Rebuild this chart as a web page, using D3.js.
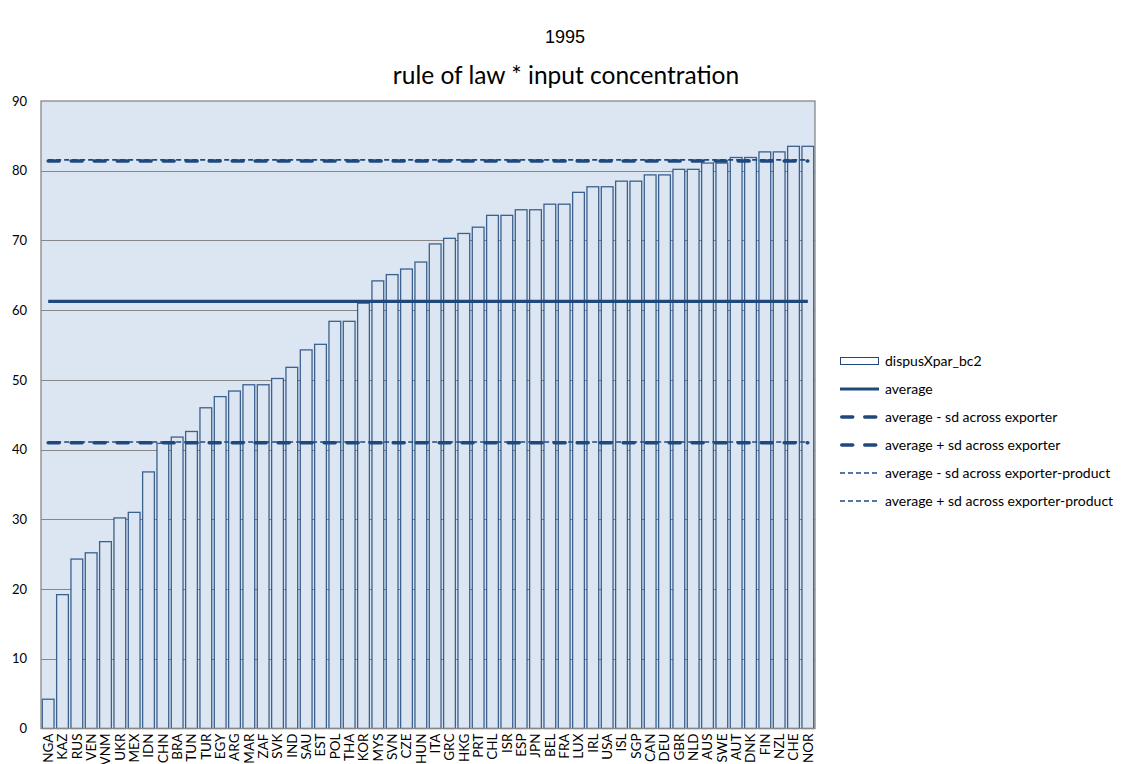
<!DOCTYPE html>
<html>
<head>
<meta charset="utf-8">
<script src="https://cdn.jsdelivr.net/npm/d3@7"></script>
<style>
  body { margin: 0; background: #fff; }
  svg { display: block; }
</style>
</head>
<body>
<svg id="chart" width="1122" height="764"></svg>
<script>
const categories = ["NGA","KAZ","RUS","VEN","VNM","UKR","MEX","IDN","CHN","BRA","TUN","TUR","EGY","ARG","MAR","ZAF","SVK","IND","SAU","EST","POL","THA","KOR","MYS","SVN","CZE","HUN","ITA","GRC","HKG","PRT","CHL","ISR","ESP","JPN","BEL","FRA","LUX","IRL","USA","ISL","SGP","CAN","DEU","GBR","NLD","AUS","SWE","AUT","DNK","FIN","NZL","CHE","NOR"];
const values = [4.2,19.2,24.3,25.2,26.8,30.2,31.0,36.8,40.9,41.8,42.6,46.0,47.6,48.4,49.3,49.3,50.2,51.8,54.3,55.1,58.4,58.4,61.0,64.2,65.1,65.9,66.9,69.5,70.3,71.0,71.9,73.6,73.6,74.4,74.4,75.2,75.2,76.9,77.7,77.7,78.5,78.5,79.4,79.4,80.2,80.2,81.1,81.1,81.9,81.9,82.7,82.7,83.5,83.5];
const average = 61.25;
const avgMinusSdExporter = 41.0;
const avgPlusSdExporter = 81.4;
const avgMinusSdExporterProduct = 41.1;
const avgPlusSdExporterProduct = 81.55;
const yTicks = [0,10,20,30,40,50,60,70,80,90];
const titleText = "1995";
const subtitleText = "rule of law * input concentration";
const legendLabels = ["dispusXpar_bc2","average","average - sd across exporter","average + sd across exporter","average - sd across exporter-product","average + sd across exporter-product"];

const svg = d3.select("#chart");
const m = {left: 41, top: 101, right: 815, bottom: 728.5};
const blue = "#1f497d";
const grid = "#878787";
const font = "Lato, 'Open Sans', sans-serif";

const x = d3.scaleBand().domain(categories).range([m.left, m.right]).paddingInner(0.18).paddingOuter(0.09);
const y = d3.scaleLinear().domain([0, 90]).range([m.bottom, m.top]);

// titles
svg.append("text").attr("x", 565).attr("y", 43).attr("text-anchor", "middle")
  .attr("font-family", "'Liberation Sans', Arial, sans-serif").attr("font-size", 18).attr("fill", "#000").text(titleText);
svg.append("text").attr("x", 566).attr("y", 84).attr("text-anchor", "middle")
  .attr("font-family", font).attr("font-size", 24.5).attr("fill", "#000").text(subtitleText);

// plot background
svg.append("rect").attr("x", m.left).attr("y", m.top).attr("width", m.right - m.left).attr("height", m.bottom - m.top)
  .attr("fill", "#dce6f2");

// gridlines
svg.append("g").selectAll("line").data(yTicks.filter(t => t > 0 && t < 90)).join("line")
  .attr("x1", m.left).attr("x2", m.right)
  .attr("y1", d => Math.round(y(d)) + 0.5).attr("y2", d => Math.round(y(d)) + 0.5)
  .attr("stroke", grid).attr("stroke-width", 1);

// bars
svg.append("g").selectAll("rect").data(categories).join("rect")
  .attr("x", (d) => x(d))
  .attr("y", (d, i) => y(values[i]))
  .attr("width", x.bandwidth())
  .attr("height", (d, i) => y(0) - y(values[i]))
  .attr("fill", "#dce6f2")
  .attr("stroke", blue).attr("stroke-width", 1.3).attr("stroke-opacity", 0.85);

// plot border
svg.append("rect").attr("x", m.left).attr("y", m.top).attr("width", m.right - m.left).attr("height", m.bottom - m.top)
  .attr("fill", "none").attr("stroke", grid).attr("stroke-width", 1.3);

// lines
const x0 = x(categories[0]) + x.bandwidth() / 2;
const x1 = x(categories[categories.length - 1]) + x.bandwidth() / 2;
const lineStyles = [
  {v: average, w: 3.2, dash: null, cap: "butt"},
  {v: avgMinusSdExporter, w: 3.5, dash: "11,12", cap: "round"},
  {v: avgPlusSdExporter, w: 3.5, dash: "11,12", cap: "round"},
  {v: avgMinusSdExporterProduct, w: 1.6, dash: "5,3", cap: "butt"},
  {v: avgPlusSdExporterProduct, w: 1.6, dash: "5,3", cap: "butt"}
];
svg.append("g").selectAll("line").data(lineStyles).join("line")
  .attr("x1", x0).attr("x2", x1)
  .attr("y1", d => y(d.v)).attr("y2", d => y(d.v))
  .attr("stroke", blue).attr("stroke-width", d => d.w)
  .attr("stroke-dasharray", d => d.dash)
  .attr("stroke-linecap", d => d.cap);

// y axis labels
const yAxis = d3.axisLeft(y).tickValues(yTicks).tickSize(0).tickPadding(14);
const ya = svg.append("g").attr("transform", `translate(${m.left},0)`).call(yAxis);
ya.select(".domain").remove();
ya.selectAll("text").attr("font-family", font).attr("font-size", 13).attr("fill", "#000");

// x axis labels
const xAxis = d3.axisBottom(x).tickSize(0).tickPadding(0);
const xa = svg.append("g").attr("transform", `translate(0,${m.bottom})`).call(xAxis);
xa.select(".domain").remove();
xa.selectAll("text")
  .attr("font-family", font).attr("font-size", 13.5).attr("fill", "#000")
  .attr("transform", "rotate(-90)")
  .attr("text-anchor", "end")
  .attr("x", -5).attr("y", 0).attr("dy", "0.35em");

// legend
const lg = svg.append("g");
const ly0 = 361, lstep = 28, lsx = 840, lsw = 39;
legendLabels.forEach((lab, i) => {
  const yy = ly0 + i * lstep;
  if (i === 0) {
    lg.append("rect").attr("x", lsx + 0.5).attr("y", yy - 3.5).attr("width", lsw - 1).attr("height", 7)
      .attr("fill", "#fff").attr("stroke", blue).attr("stroke-width", 1);
  } else {
    const s = lineStyles[i - 1];
    const cap = s.cap === "round" ? 1.75 : 0;
    lg.append("line").attr("x1", lsx + cap).attr("x2", lsx + lsw - cap).attr("y1", yy).attr("y2", yy)
      .attr("stroke", blue).attr("stroke-width", s.w)
      .attr("stroke-dasharray", s.dash)
      .attr("stroke-linecap", s.cap);
  }
  lg.append("text").attr("x", 885).attr("y", yy).attr("dy", "0.35em")
    .attr("font-family", font).attr("font-size", 14).attr("fill", "#000").text(lab);
});
</script>
</body>
</html>
